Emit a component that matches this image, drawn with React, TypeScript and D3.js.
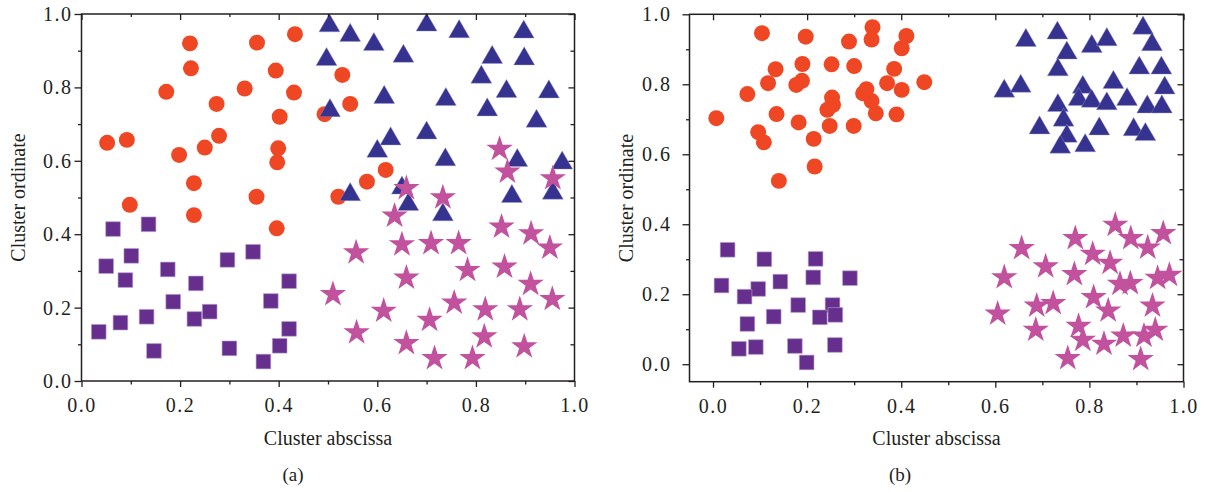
import React, { useEffect, useRef } from 'react';
import * as d3 from 'd3';

type Pt = [number, number];

// panel (a)
const circlesA: Pt[] = [
  [0.052, 0.649], [0.092, 0.657], [0.172, 0.788], [0.22, 0.92], [0.222, 0.852],
  [0.198, 0.616], [0.25, 0.636], [0.279, 0.668], [0.274, 0.755], [0.228, 0.539],
  [0.331, 0.797], [0.356, 0.922], [0.394, 0.846], [0.402, 0.72], [0.399, 0.634],
  [0.397, 0.596], [0.433, 0.945], [0.431, 0.786], [0.355, 0.502], [0.098, 0.48],
  [0.228, 0.452], [0.396, 0.416], [0.529, 0.834], [0.545, 0.755], [0.493, 0.727],
  [0.617, 0.575], [0.579, 0.543], [0.521, 0.502],
];
const trianglesA: Pt[] = [
  [0.503, 0.976], [0.545, 0.95], [0.593, 0.925], [0.497, 0.884], [0.653, 0.893],
  [0.7, 0.978], [0.766, 0.96], [0.897, 0.959], [0.833, 0.89], [0.898, 0.886],
  [0.811, 0.836], [0.862, 0.797], [0.948, 0.796], [0.823, 0.747], [0.923, 0.716],
  [0.614, 0.781], [0.739, 0.775], [0.504, 0.745], [0.627, 0.668], [0.6, 0.634],
  [0.7, 0.684], [0.738, 0.611], [0.884, 0.609], [0.975, 0.602], [0.65, 0.534],
  [0.545, 0.516], [0.873, 0.511], [0.956, 0.52], [0.733, 0.461], [0.663, 0.489],
];
const squaresA: Pt[] = [
  [0.064, 0.414], [0.136, 0.427], [0.05, 0.313], [0.101, 0.341], [0.089, 0.275],
  [0.175, 0.304], [0.232, 0.266], [0.296, 0.33], [0.348, 0.352], [0.421, 0.272],
  [0.384, 0.218], [0.186, 0.216], [0.035, 0.134], [0.079, 0.159], [0.132, 0.175],
  [0.229, 0.169], [0.26, 0.189], [0.147, 0.082], [0.3, 0.089], [0.369, 0.053],
  [0.402, 0.096], [0.421, 0.142],
];
const starsA: Pt[] = [
  [0.635, 0.45], [0.733, 0.5], [0.65, 0.372], [0.709, 0.375], [0.765, 0.375],
  [0.557, 0.35], [0.852, 0.42], [0.912, 0.402], [0.95, 0.363], [0.659, 0.281],
  [0.783, 0.302], [0.858, 0.311], [0.911, 0.264], [0.51, 0.236], [0.613, 0.191],
  [0.756, 0.213], [0.819, 0.195], [0.889, 0.195], [0.955, 0.223], [0.558, 0.132],
  [0.706, 0.166], [0.817, 0.121], [0.659, 0.103], [0.898, 0.094], [0.716, 0.062],
  [0.793, 0.062], [0.848, 0.632], [0.864, 0.57], [0.956, 0.552], [0.659, 0.525],
];

// panel (b)
const circlesB: Pt[] = [
  [0.007, 0.703], [0.104, 0.946], [0.197, 0.936], [0.073, 0.772], [0.117, 0.803],
  [0.133, 0.843], [0.19, 0.858], [0.177, 0.798], [0.189, 0.81], [0.135, 0.715],
  [0.096, 0.663], [0.108, 0.634], [0.182, 0.691], [0.214, 0.644], [0.216, 0.565],
  [0.14, 0.524], [0.252, 0.857], [0.253, 0.762], [0.255, 0.741], [0.243, 0.727],
  [0.248, 0.681], [0.289, 0.922], [0.3, 0.852], [0.299, 0.681], [0.339, 0.963],
  [0.337, 0.928], [0.326, 0.786], [0.319, 0.774], [0.337, 0.752], [0.346, 0.717],
  [0.37, 0.803], [0.385, 0.844], [0.39, 0.714], [0.401, 0.903], [0.411, 0.938],
  [0.401, 0.784], [0.449, 0.806],
];
const trianglesB: Pt[] = [
  [0.665, 0.934], [0.732, 0.955], [0.752, 0.898], [0.733, 0.85], [0.805, 0.917],
  [0.837, 0.936], [0.914, 0.969], [0.933, 0.922], [0.906, 0.855], [0.953, 0.855],
  [0.96, 0.798], [0.619, 0.789], [0.654, 0.803], [0.786, 0.8], [0.851, 0.814],
  [0.777, 0.765], [0.805, 0.76], [0.837, 0.753], [0.88, 0.765], [0.923, 0.744],
  [0.954, 0.744], [0.733, 0.748], [0.745, 0.706], [0.694, 0.684], [0.821, 0.681],
  [0.894, 0.679], [0.919, 0.665], [0.752, 0.66], [0.738, 0.629], [0.791, 0.633],
];
const squaresB: Pt[] = [
  [0.031, 0.327], [0.018, 0.225], [0.109, 0.3], [0.096, 0.215], [0.067, 0.193],
  [0.143, 0.236], [0.218, 0.301], [0.213, 0.248], [0.291, 0.246], [0.181, 0.169],
  [0.254, 0.169], [0.26, 0.141], [0.227, 0.134], [0.129, 0.136], [0.073, 0.115],
  [0.055, 0.044], [0.091, 0.049], [0.174, 0.052], [0.259, 0.055], [0.199, 0.005],
];
const starsB: Pt[] = [
  [0.855, 0.398], [0.77, 0.36], [0.888, 0.36], [0.957, 0.374], [0.924, 0.333],
  [0.656, 0.331], [0.807, 0.315], [0.844, 0.289], [0.707, 0.279], [0.768, 0.257],
  [0.619, 0.248], [0.865, 0.229], [0.887, 0.231], [0.945, 0.246], [0.97, 0.255],
  [0.809, 0.191], [0.688, 0.167], [0.723, 0.174], [0.84, 0.153], [0.934, 0.167],
  [0.605, 0.144], [0.777, 0.109], [0.686, 0.098], [0.786, 0.069], [0.831, 0.058],
  [0.872, 0.081], [0.916, 0.081], [0.94, 0.098], [0.754, 0.017], [0.909, 0.014],
];

const majorTicks = [0, 0.2, 0.4, 0.6, 0.8, 1.0];
const minorTicks = [0.1, 0.3, 0.5, 0.7, 0.9];
const xTitle = 'Cluster abscissa';
const yTitle = 'Cluster ordinate';

const FONT = '"Liberation Serif", "Times New Roman", serif';
const INK = '#231f20';

interface PanelCfg {
  xDomain: [number, number];
  yDomain: [number, number];
  xRange: [number, number];
  yRange: [number, number];
  circles: Pt[];
  triangles: Pt[];
  squares: Pt[];
  stars: Pt[];
  label: string;
  labelX: number;
  yTitleX: number;
  yLabelGap: number;
}

const panels: PanelCfg[] = [
  {
    xDomain: [0, 1], yDomain: [0, 1], xRange: [81.5, 574.5], yRange: [381, 14],
    circles: circlesA, triangles: trianglesA, squares: squaresA, stars: starsA,
    label: '(a)', labelX: 293, yTitleX: 25, yLabelGap: 2,
  },
  {
    xDomain: [-0.05, 1], yDomain: [-0.05, 1], xRange: [689.5, 1183.5], yRange: [381.7, 14.3],
    circles: circlesB, triangles: trianglesB, squares: squaresB, stars: starsB,
    label: '(b)', labelX: 900, yTitleX: 633, yLabelGap: 11,
  },
];

function drawPanel(svg: d3.Selection<SVGSVGElement, unknown, null, undefined>, p: PanelCfg) {
  const x = d3.scaleLinear().domain(p.xDomain).range(p.xRange);
  const y = d3.scaleLinear().domain(p.yDomain).range(p.yRange);
  const [x0, x1] = p.xRange;
  const [y0, y1] = p.yRange;
  const g = svg.append('g');

  // markers
  const sym = (type: d3.SymbolType, size: number) => d3.symbol().type(type).size(size)();
  g.append('g').selectAll('path').data(p.circles).enter().append('path')
    .attr('d', sym(d3.symbolCircle, 200))
    .attr('transform', (d) => `translate(${x(d[0])},${y(d[1])})`)
    .attr('fill', '#ef4624');
  g.append('g').selectAll('path').data(p.squares).enter().append('path')
    .attr('d', sym(d3.symbolSquare, 215))
    .attr('transform', (d) => `translate(${x(d[0])},${y(d[1])})`)
    .attr('fill', '#662f8e')
    .attr('stroke', '#b49ccc').attr('stroke-width', 0.6);
  g.append('g').selectAll('path').data(p.triangles).enter().append('path')
    .attr('d', sym(d3.symbolTriangle, 190))
    .attr('transform', (d) => `translate(${x(d[0])},${y(d[1]) + 3})`)
    .attr('fill', '#363390')
    .attr('stroke', '#9c9ccc').attr('stroke-width', 0.4);
  g.append('g').selectAll('path').data(p.stars).enter().append('path')
    .attr('d', sym(d3.symbolStar, 215))
    .attr('transform', (d) => `translate(${x(d[0])},${y(d[1])})`)
    .attr('fill', '#c2519e');

  // axes
  const style = (a: d3.Selection<SVGGElement, unknown, null, undefined>) => {
    a.attr('font-family', FONT).attr('font-size', 20);
    a.select('.domain').remove();
    a.selectAll('line').attr('stroke', INK).attr('stroke-width', 1.3);
    a.selectAll('text').attr('fill', INK).attr('letter-spacing', 1.5);
  };
  const fmt = d3.format('.1f');

  const bottom = g.append('g').attr('transform', `translate(0,${y0})`)
    .call(d3.axisBottom(x).tickValues(majorTicks).tickSize(6).tickPadding(11).tickFormat((d) => fmt(d as number)));
  style(bottom);
  const bottomMinor = g.append('g').attr('transform', `translate(0,${y0})`)
    .call(d3.axisBottom(x).tickValues(minorTicks).tickSize(3.5).tickFormat(() => ''));
  style(bottomMinor);

  const left = g.append('g').attr('transform', `translate(${x0},0)`)
    .call(d3.axisLeft(y).tickValues(majorTicks).tickSize(7).tickPadding(p.yLabelGap).tickFormat((d) => fmt(d as number)));
  style(left);
  const leftMinor = g.append('g').attr('transform', `translate(${x0},0)`)
    .call(d3.axisLeft(y).tickValues(minorTicks).tickSize(3.5).tickFormat(() => ''));
  style(leftMinor);

  const top = g.append('g').attr('transform', `translate(0,${y1})`)
    .call(d3.axisTop(x).tickValues(majorTicks).tickSize(-6).tickFormat(() => ''));
  style(top);
  const topMinor = g.append('g').attr('transform', `translate(0,${y1})`)
    .call(d3.axisTop(x).tickValues(minorTicks).tickSize(-3).tickFormat(() => ''));
  style(topMinor);

  const right = g.append('g').attr('transform', `translate(${x1},0)`)
    .call(d3.axisRight(y).tickValues(majorTicks).tickSize(-6).tickFormat(() => ''));
  style(right);
  const rightMinor = g.append('g').attr('transform', `translate(${x1},0)`)
    .call(d3.axisRight(y).tickValues(minorTicks).tickSize(-4).tickFormat(() => ''));
  style(rightMinor);

  // frame
  g.append('rect')
    .attr('x', x0).attr('y', y1)
    .attr('width', x1 - x0).attr('height', y0 - y1)
    .attr('fill', 'none').attr('stroke', INK).attr('stroke-width', 1.5);

  // titles
  g.append('text')
    .attr('x', (x0 + x1) / 2).attr('y', 445)
    .attr('text-anchor', 'middle')
    .attr('font-family', FONT).attr('font-size', 20).attr('fill', INK)
    .text(xTitle);
  g.append('text')
    .attr('transform', `translate(${p.yTitleX},${(y0 + y1) / 2}) rotate(-90)`)
    .attr('text-anchor', 'middle')
    .attr('font-family', FONT).attr('font-size', 20).attr('fill', INK)
    .text(yTitle);
  g.append('text')
    .attr('x', p.labelX).attr('y', 481)
    .attr('text-anchor', 'middle')
    .attr('font-family', FONT).attr('font-size', 19).attr('fill', INK)
    .text(p.label);
}

export default function App() {
  const ref = useRef<SVGSVGElement>(null);

  useEffect(() => {
    const svg = d3.select(ref.current as SVGSVGElement);
    svg.selectAll('*').remove();
    panels.forEach((p) => drawPanel(svg, p));
  }, []);

  return (
    <svg
      ref={ref}
      width={1205}
      height={492}
      style={{ position: 'absolute', left: 0, top: 0, background: '#fff' }}
    />
  );
}
